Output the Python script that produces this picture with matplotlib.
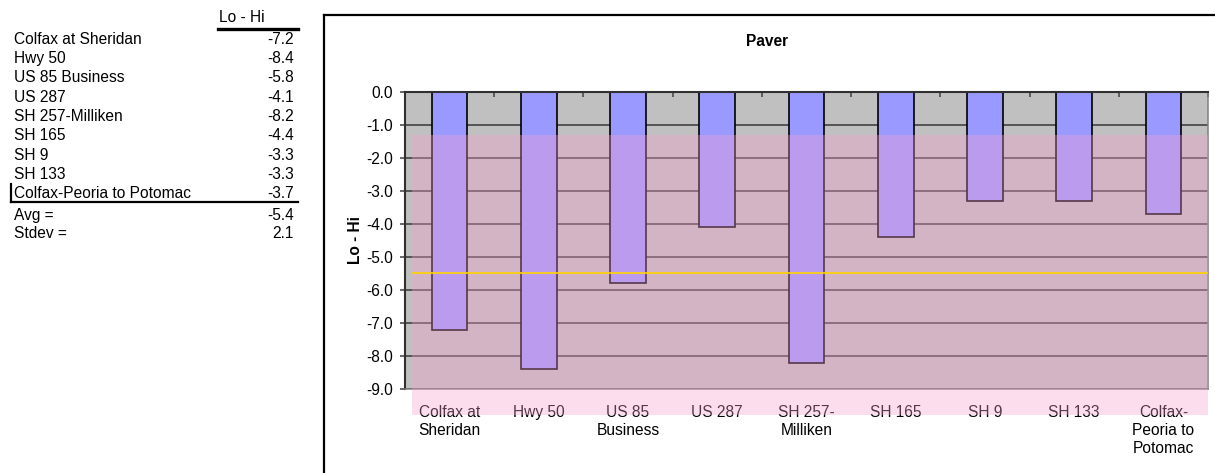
import matplotlib
matplotlib.use("Agg")
import matplotlib.pyplot as plt
from matplotlib.patches import Rectangle
from matplotlib.lines import Line2D
import matplotlib.transforms as mtransforms

plt.rcParams['font.family'] = ['Liberation Sans', 'DejaVu Sans']

# ---- data -------------------------------------------------------------
sites = ["Colfax at Sheridan", "Hwy 50", "US 85 Business", "US 287",
         "SH 257-Milliken", "SH 165", "SH 9", "SH 133",
         "Colfax-Peoria to Potomac"]
axis_labels = ["Colfax at\nSheridan", "Hwy 50", "US 85\nBusiness", "US 287",
               "SH 257-\nMilliken", "SH 165", "SH 9", "SH 133",
               "Colfax-\nPeoria to\nPotomac"]
lo_hi = [-7.2, -8.4, -5.8, -4.1, -8.2, -4.4, -3.3, -3.3, -3.7]
avg_value = -5.4
stdev_value = 2.1
y_ticks = [0, -1, -2, -3, -4, -5, -6, -7, -8, -9]
limit_line = -5.5          # yellow reference line
band_top = -1.3            # top of the shaded band
band_bottom = -9.78        # band runs below the axis into the label area

W, H = 1215, 473
fig = plt.figure(figsize=(W / 100, H / 100), dpi=100)
FS = 11.2


def fx(x):
    return x / W


def fy(y):
    return 1 - y / H


# ---- left-hand table --------------------------------------------------
fig.text(fx(219), fy(18), "Lo - Hi", fontsize=FS, va="center", ha="left")
fig.add_artist(Line2D([fx(218), fx(298)], [fy(29), fy(29)], color="black", lw=2.4))
row_y0, row_dy = 39, 19.35
for i, (name, val) in enumerate(zip(sites, lo_hi)):
    yy = row_y0 + i * row_dy
    fig.text(fx(14), fy(yy), name, fontsize=FS, va="center", ha="left")
    fig.text(fx(294), fy(yy), f"{val:.1f}", fontsize=FS, va="center", ha="right")
fig.add_artist(Line2D([fx(11), fx(298)], [fy(202), fy(202)], color="black", lw=1.6))
fig.add_artist(Line2D([fx(11), fx(11)], [fy(184), fy(202)], color="black", lw=1.6))
for j, (name, val) in enumerate([("Avg =", avg_value), ("Stdev =", stdev_value)]):
    yy = 215 + j * 18.5
    fig.text(fx(14), fy(yy), name, fontsize=FS, va="center", ha="left")
    fig.text(fx(294), fy(yy), f"{val:.1f}", fontsize=FS, va="center", ha="right")

# ---- chart frame ------------------------------------------------------
fig.add_artist(Line2D([fx(323.5), fx(323.5)], [fy(15.5), fy(H + 2)], color="black", lw=1.6))
fig.add_artist(Line2D([fx(323.5), fx(W + 2)], [fy(15.5), fy(15.5)], color="black", lw=1.6))
fig.text(fx(767), fy(42), "Paver", fontsize=FS, fontweight="bold", ha="center", va="center")
fig.text(fx(355), fy(240), "Lo - Hi", fontsize=FS, fontweight="bold",
         ha="center", va="center", rotation=90)

# ---- bar chart --------------------------------------------------------
top_px, bot_px, left_px, right_px = 91.7, 389.0, 405.0, 1208.0
ax = fig.add_axes([fx(left_px), fy(bot_px), (right_px - left_px) / W,
                   (bot_px - top_px) / H])
ax.set_facecolor("#c0c0c0")
ax.set_axisbelow(True)
n = len(lo_hi)
xs = list(range(n))
ax.bar(xs, lo_hi, width=0.4, color="#9999ff", edgecolor="black", linewidth=1.2, zorder=2)
ax.set_xlim(-0.5, n - 0.5)
ax.set_ylim(-9, 0)
ax.set_yticks(y_ticks)
ax.set_yticklabels([f"{t:.1f}" for t in y_ticks], fontsize=FS)
ax.yaxis.grid(True, color="#555555", lw=1.4)
ax.tick_params(axis="y", direction="out", length=3.6, width=1.1, color="#404040", pad=5)

# category boundaries marked on the zero line
ax.xaxis.tick_top()
ax.set_xticks([i + 0.5 for i in range(n)])
ax.set_xticklabels([])
ax.tick_params(axis="x", direction="in", length=3.6, width=1.1, color="#404040")

for side in ("top", "left"):
    ax.spines[side].set_color("#303030")
    ax.spines[side].set_linewidth(1.5)
for side in ("bottom", "right"):
    ax.spines[side].set_color("#808080")
    ax.spines[side].set_linewidth(1.1)

label_tf = mtransforms.blended_transform_factory(ax.transData, ax.transAxes)
for x, lab in zip(xs, axis_labels):
    ax.text(x, -0.055, lab, transform=label_tf, ha="center", va="top",
            fontsize=FS, linespacing=1.25, zorder=3, clip_on=False)

# translucent band laid over bars, grid and labels
band_left = -0.5 + (411.7 - left_px) / ((right_px - left_px) / n)
ax.add_patch(Rectangle((band_left, band_bottom), n - 0.5 - band_left,
                       band_top - band_bottom, facecolor=(0.976, 0.627, 0.808, 0.35),
                       edgecolor="none", zorder=5, clip_on=False))
ax.plot([band_left, n - 0.5], [limit_line, limit_line], color="#ffd400", lw=1.2,
        zorder=6, solid_capstyle="butt")

fig.savefig("out.png", dpi=100)
